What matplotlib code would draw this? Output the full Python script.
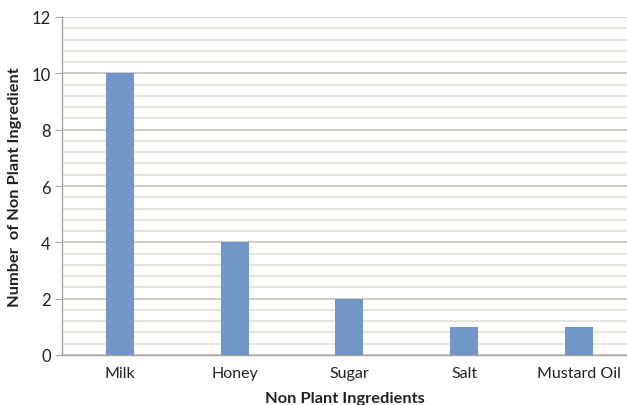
import matplotlib
matplotlib.use("Agg")
import matplotlib.pyplot as plt
from matplotlib.ticker import MultipleLocator

categories = ["Milk", "Honey", "Sugar", "Salt", "Mustard Oil"]
counts = [10, 4, 2, 1, 1]
y_ticks = [0, 2, 4, 6, 8, 10, 12]

plt.rcParams["font.family"] = ["Lato", "DejaVu Sans"]

fig = plt.figure(figsize=(6.27, 4.06), dpi=100)
fig.patch.set_facecolor("white")
ax = fig.add_axes([62 / 627, 1 - 356 / 406, 1 - 62 / 627, (356 - 18) / 406])
ax.set_facecolor("#fefefc")

x = list(range(len(categories)))
ax.bar(x, counts, width=0.245, color="#7197c9", zorder=3)

ax.set_xlim(-0.505, 4.42)
ax.set_ylim(0, 12)
ax.set_yticks(y_ticks)
ax.yaxis.set_minor_locator(MultipleLocator(0.4))
ax.grid(which="major", axis="y", color="#c9c5c1", linewidth=1.2, zorder=1)
ax.grid(which="minor", axis="y", color="#e2dedb", linewidth=1.2, zorder=1)

ax.set_xticks(x)
ax.set_xticklabels(categories, fontsize=11.5, color="#222222")
ax.tick_params(axis="x", length=0, pad=8)
ax.tick_params(axis="y", which="major", length=5, color="#a8a4a0", labelsize=12,
               labelcolor="#222222", pad=3)
ax.tick_params(axis="y", which="minor", length=0)

for side in ["top", "right"]:
    ax.spines[side].set_visible(False)
for side in ["left", "bottom"]:
    ax.spines[side].set_color("#a8a4a0")
    ax.spines[side].set_linewidth(1.0)

ax.set_ylabel("Number  of Non Plant Ingredient", fontsize=11.8, fontweight="bold",
              color="#222222", labelpad=7)
ax.set_xlabel("Non Plant Ingredients", fontsize=11.8, fontweight="bold",
              color="#222222", labelpad=8)

fig.savefig("out.png", dpi=100)
